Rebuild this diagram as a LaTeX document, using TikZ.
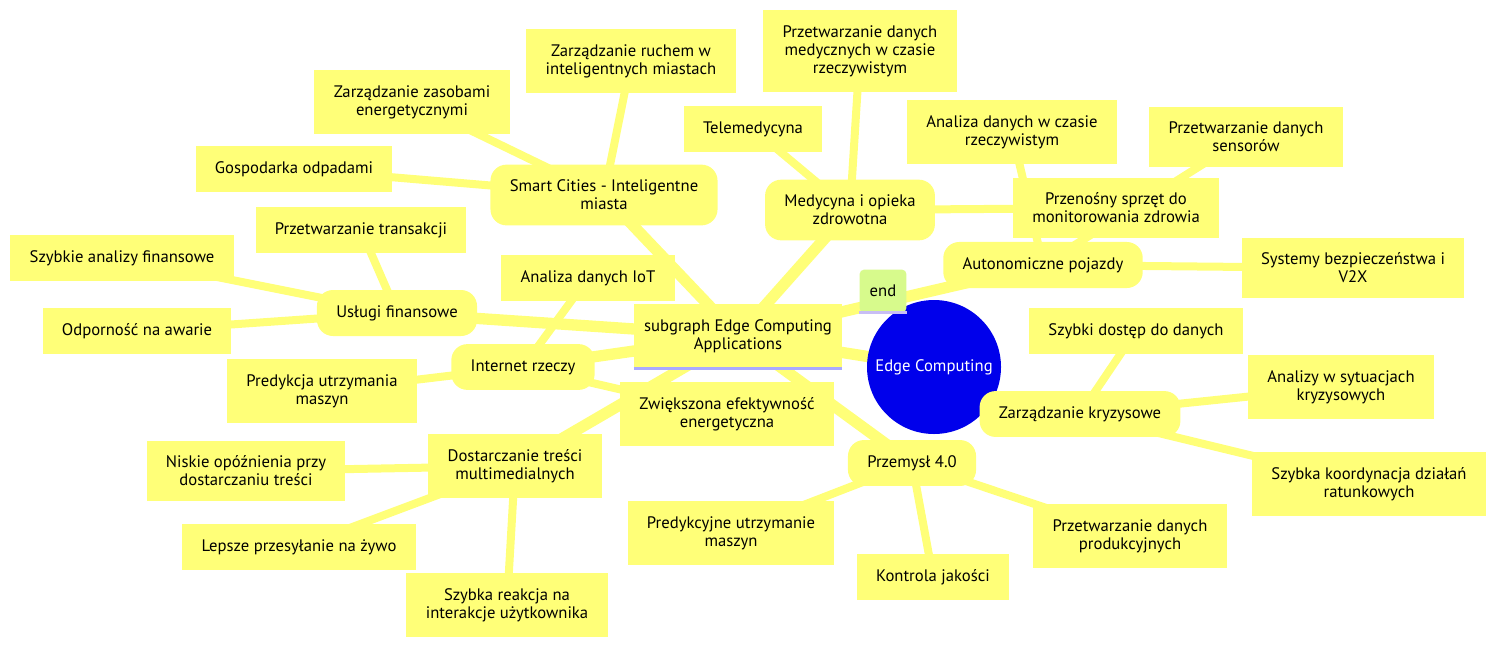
\documentclass[tikz,border=0pt]{standalone}
\usepackage{fontspec}
\setmainfont{PT Sans}
\usepackage{tikz}
\usetikzlibrary{backgrounds}

\definecolor{mmyellow}{RGB}{255,255,120}
\definecolor{mmgreen}{RGB}{215,250,140}
\definecolor{mmblue}{RGB}{0,0,235}
\definecolor{mmlilac}{RGB}{170,170,255}
\definecolor{mmlilacb}{RGB}{200,190,245}

\tikzset{
  leaf/.style={fill=mmyellow, inner xsep=14.5pt, inner ysep=11.5pt, align=center,
    font=\fontsize{12.5}{13.5}\selectfont},
  branch/.style={leaf, rounded corners=12pt},
  plain/.style={leaf, inner xsep=7.5pt},
  endnode/.style={plain, fill=mmgreen, rounded corners=3pt},
  rootnode/.style={circle, fill=mmblue, text=white, minimum size=100.5pt, inner sep=0pt,
    font=\fontsize{12.5}{13.5}\selectfont},
  trunk/.style={draw=mmyellow, line width=8.5pt},
  twig/.style={draw=mmyellow, line width=6pt},
  subline/.style={line width=2.2pt}
}

\begin{document}
\begin{tikzpicture}[x=0.75pt,y=0.75pt,yscale=-1,xscale=1]
\useasboundingbox (0,0) rectangle (1498,647);

% centre
\node[rootnode] (root) at (934,367) {Edge Computing};
\node[endnode] (endbox) at (883,291) {end};
\node[plain] (sub) at (738,336) {subgraph Edge Computing\\Applications};

% main branches
\node[branch] (smart) at (604,195) {Smart Cities - Inteligentne\\miasta};
\node[branch] (med) at (850,210) {Medycyna i opieka\\zdrowotna};
\node[branch] (auto) at (1043,265) {Autonomiczne pojazdy};
\node[branch] (fin) at (397,313) {Usługi finansowe};
\node[branch] (iot) at (523,367) {Internet rzeczy};
\node[branch] (ind) at (912,463) {Przemysł 4.0};
\node[branch] (kris) at (1080,414) {Zarządzanie kryzysowe};
\node[leaf] (media) at (515,466) {Dostarczanie treści\\multimedialnych};

% smart cities
\node[leaf] (traffic) at (631,61) {Zarządzanie ruchem w\\inteligentnych miastach};
\node[leaf] (energy) at (412,102) {Zarządzanie zasobami\\energetycznymi};
\node[leaf] (waste) at (294,169) {Gospodarka odpadami};

% medycyna
\node[leaf] (tele) at (753,129) {Telemedycyna};
\node[leaf] (meddata) at (860,51) {Przetwarzanie danych\\medycznych w czasie\\rzeczywistym};
\node[leaf] (wear) at (1116,208) {Przenośny sprzęt do\\monitorowania zdrowia};

% pojazdy
\node[leaf] (rtdata) at (1012,132) {Analiza danych w czasie\\rzeczywistym};
\node[leaf] (sensor) at (1246,137) {Przetwarzanie danych\\sensorów};
\node[leaf] (v2x) at (1353,268) {Systemy bezpieczeństwa i\\V2X};

% finanse
\node[leaf] (trans) at (361,230) {Przetwarzanie transakcji};
\node[leaf] (fast) at (122,258) {Szybkie analizy finansowe};
\node[leaf] (fault) at (137,331) {Odporność na awarie};

% iot
\node[leaf] (iotdata) at (588,278) {Analiza danych IoT};
\node[leaf] (predict) at (322,391) {Predykcja utrzymania\\maszyn};
\node[leaf] (eff) at (727,414) {Zwiększona efektywność\\energetyczna};

% multimedia
\node[leaf] (latency) at (246,471) {Niskie opóźnienia przy\\dostarczaniu treści};
\node[leaf] (live) at (299,547) {Lepsze przesyłanie na żywo};
\node[leaf] (react) at (507,605) {Szybka reakcja na\\interakcje użytkownika};

% przemysl
\node[leaf] (maint) at (731,533) {Predykcyjne utrzymanie\\maszyn};
\node[leaf] (quality) at (933,577) {Kontrola jakości};
\node[leaf] (prod) at (1130,536) {Przetwarzanie danych\\produkcyjnych};

% kryzys
\node[leaf] (access) at (1136,331) {Szybki dostęp do danych};
\node[leaf] (crisis) at (1341,387) {Analizy w sytuacjach\\kryzysowych};
\node[leaf] (rescue) at (1369,484) {Szybka koordynacja działań\\ratunkowych};

\draw[subline, mmlilac] (sub.south west) -- (sub.south east);
\draw[subline, mmlilacb] (endbox.south west) -- (endbox.south east);

\begin{scope}[on background layer]
\draw[trunk] (root.center) -- (sub.center);
\foreach \b in {smart,med,auto,fin,iot,ind,media}
  \draw[trunk] (sub.center) -- (\b.center);
\foreach \a/\b in {smart/traffic,smart/energy,smart/waste,
                   med/tele,med/meddata,med/wear,
                   auto/rtdata,auto/sensor,auto/v2x,
                   fin/trans,fin/fast,fin/fault,
                   iot/iotdata,iot/predict,iot/eff,
                   media/latency,media/live,media/react,
                   ind/maint,ind/quality,ind/prod,
                   kris/access,kris/crisis,kris/rescue}
  \draw[twig] (\a.center) -- (\b.center);
\end{scope}

\end{tikzpicture}
\end{document}
